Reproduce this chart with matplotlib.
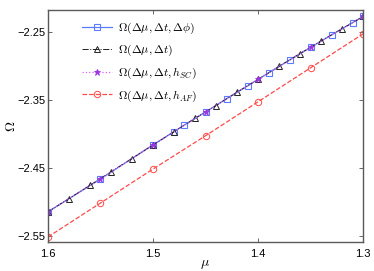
import numpy as np
import matplotlib
matplotlib.use('Agg')
import matplotlib.pyplot as plt

plt.rcParams['font.family'] = ['Liberation Sans', 'DejaVu Sans']
plt.rcParams['mathtext.fontset'] = 'cm'

# shared curve of the three upper series (mu -> Omega)
mu_grid = [1.60, 1.59, 1.58, 1.57, 1.56, 1.55, 1.54, 1.53, 1.52, 1.51, 1.50,
           1.49, 1.48, 1.47, 1.46, 1.45, 1.44, 1.43, 1.42, 1.41, 1.40,
           1.39, 1.38, 1.37, 1.36, 1.35, 1.34, 1.33, 1.32, 1.31, 1.30]
om_grid = [-2.515, -2.505, -2.4955, -2.486, -2.476, -2.4666, -2.456, -2.4465, -2.4365, -2.426, -2.4165,
           -2.407, -2.397, -2.387, -2.3775, -2.368, -2.3585, -2.3485, -2.339, -2.3295, -2.320,
           -2.3105, -2.301, -2.2915, -2.282, -2.273, -2.2635, -2.2545, -2.2455, -2.2365, -2.2275]
om_of = dict(zip(mu_grid, om_grid))

mu_phi = [1.60, 1.55, 1.50, 1.48, 1.47, 1.45, 1.43, 1.41, 1.39, 1.37, 1.35, 1.33, 1.31, 1.30]
om_phi = [om_of[m] for m in mu_phi]

mu_t = [1.60, 1.58, 1.56, 1.54, 1.52, 1.50, 1.48, 1.46, 1.44, 1.42, 1.40, 1.38, 1.36, 1.34, 1.32, 1.30]
om_t = [om_of[m] for m in mu_t]

mu_sc = [1.60, 1.55, 1.50, 1.45, 1.40, 1.35, 1.30]
om_sc = [om_of[m] for m in mu_sc]

mu_af = [1.60, 1.55, 1.50, 1.45, 1.40, 1.35, 1.30]
om_af = [-2.552, -2.502, -2.452, -2.403, -2.353, -2.303, -2.253]

fig = plt.figure(figsize=(3.74, 2.71), dpi=100)
ax = fig.add_axes([0.128, 0.107, 0.843, 0.856])

ax.plot(mu_phi, om_phi, '-', color='#5c7cff', lw=0.9, marker='s', ms=4.2,
        mfc='none', mec='#5c7cff', mew=0.8, label=r'$\Omega(\Delta\mu,\Delta t,\Delta\phi)$')
ax.plot(mu_t, om_t, '-.', color='#222222', lw=0.7, marker='^', ms=4.6,
        mfc='none', mec='#222222', mew=0.7, label=r'$\Omega(\Delta\mu,\Delta t)$')
ax.plot(mu_sc, om_sc, ':', color='#e060ff', lw=0.9, marker='*', ms=5,
        mfc='#9a35e0', mec='#9a35e0', mew=0.6, label=r'$\Omega(\Delta\mu,\Delta t,h_{SC})$')
ax.plot(mu_af, om_af, '--', color='#ff4a4a', lw=0.9, marker='o', ms=4.6,
        mfc='none', mec='#ff4a4a', mew=0.7, label=r'$\Omega(\Delta\mu,\Delta t,h_{AF})$')

ax.set_xlim(1.6, 1.3)
ax.set_ylim(-2.5593, -2.218)
ax.set_xticks([1.6, 1.5, 1.4, 1.3])
ax.set_xticklabels(['1.6', '1.5', '1.4', '1.3'])
ax.set_yticks([-2.25, -2.35, -2.45, -2.55])
ax.set_yticklabels(['\u22122.25', '\u22122.35', '\u22122.45', '\u22122.55'])
ax.tick_params(direction='in', top=True, right=True, labelsize=8, length=3,
               width=0.6, color='0.3')
ax.tick_params(axis='x', pad=5)
ax.tick_params(axis='y', pad=2)
for s in ax.spines.values():
    s.set_color('0.35')
    s.set_linewidth(1.0)

ax.set_xlabel(r'$\mu$', fontsize=10)
ax.xaxis.set_label_coords(0.5, -0.065)
ax.set_ylabel(r'$\Omega$', fontsize=10)
ax.yaxis.set_label_coords(-0.095, 0.5)

ax.legend(loc='upper left', bbox_to_anchor=(0.085, 0.985), frameon=False,
          fontsize=8.5, handlelength=2.6, handletextpad=0.5, labelspacing=0.62,
          borderaxespad=0.2)

fig.savefig('out.png', dpi=100)
